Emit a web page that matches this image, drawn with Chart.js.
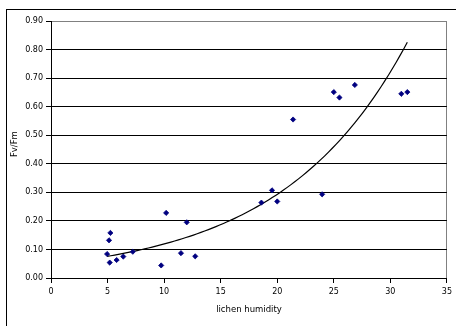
<!DOCTYPE html>
<html>
<head>
<meta charset="utf-8">
<script src="https://cdn.jsdelivr.net/npm/chart.js@4"></script>
<style>
  html, body { margin: 0; padding: 0; background: #fff; overflow: hidden; }
  #frame { position: absolute; left: 6px; top: 9px; width: 520px; height: 400px; border: 1px solid #000; }
  #wrap { position: absolute; left: 0; top: 0; width: 456px; height: 326px; }
</style>
</head>
<body>
<div id="frame"></div>
<div id="wrap"><canvas id="fvfmChart" width="456" height="326"></canvas></div>
<script>
// lichen humidity (x) and Fv/Fm (y)
let humidity = [4.96, 5.25, 5.13, 5.19, 5.8, 6.39, 7.23, 9.74, 10.18, 11.49, 12.0, 12.75,
                18.6, 19.54, 20.0, 21.4, 23.97, 25.0, 25.5, 26.86, 30.97, 31.5];
let fvfm = [0.084, 0.158, 0.132, 0.054, 0.063, 0.075, 0.092, 0.044, 0.228, 0.087, 0.195, 0.076,
            0.264, 0.307, 0.268, 0.555, 0.293, 0.651, 0.632, 0.676, 0.645, 0.651];

let xTicks = [0, 5, 10, 15, 20, 25, 30, 35];
let yTicks = [0, 0.1, 0.2, 0.3, 0.4, 0.5, 0.6, 0.7, 0.8, 0.9];

let points = humidity.map((h, i) => ({ x: h, y: fvfm[i] }));

// exponential trendline (least squares on ln y), like the spreadsheet does
let n = humidity.length;
let mx = humidity.reduce((a, b) => a + b, 0) / n;
let ly = fvfm.map(v => Math.log(v));
let my = ly.reduce((a, b) => a + b, 0) / n;
let sxy = 0, sxx = 0;
for (let i = 0; i < n; i++) {
  sxy += (humidity[i] - mx) * (ly[i] - my);
  sxx += (humidity[i] - mx) * (humidity[i] - mx);
}
let b = sxy / sxx;
let a = Math.exp(my - b * mx);
let xMin = Math.min(...humidity), xMax = Math.max(...humidity);
let trend = [];
for (let k = 0; k <= 80; k++) {
  let x = xMin + (xMax - xMin) * k / 80;
  trend.push({ x: x, y: a * Math.exp(b * x) });
}

let font = { family: 'DejaVu Sans', size: 8 };

let ctx = document.getElementById('fvfmChart').getContext('2d');
let fvfmChart = new Chart(ctx, {
  type: 'scatter',
  data: {
    datasets: [
      {
        label: 'Fv/Fm',
        data: points,
        pointStyle: 'rectRot',
        pointRadius: 2.6,
        pointBackgroundColor: '#000080',
        pointBorderColor: '#000080',
        pointBorderWidth: 0.8,
        order: 1
      },
      {
        label: 'trend',
        data: trend,
        showLine: true,
        pointRadius: 0,
        borderColor: '#000',
        borderWidth: 1.2,
        fill: false,
        order: 2
      }
    ]
  },
  options: {
    responsive: false,
    animation: false,
    events: [],
    layout: { padding: { left: 0, top: 21, right: 5, bottom: 0 } },
    plugins: { legend: { display: false }, tooltip: { enabled: false } },
    scales: {
      x: {
        type: 'linear',
        min: 0, max: 35,
        afterFit: s => { s.height = 48; },
        afterBuildTicks: s => { s.ticks = xTicks.map(v => ({ value: v })); },
        ticks: { font: font, color: '#000', padding: 4, maxRotation: 0 },
        grid: {
          drawOnChartArea: true,
          color: c => (c.tick && c.tick.value === 35 ? '#808080' : 'rgba(0,0,0,0)'),
          tickColor: '#000',
          tickLength: 5
        },
        border: { color: '#000', width: 1 },
        title: { display: true, text: 'lichen humidity', font: { family: 'DejaVu Sans', size: 8.5 }, color: '#000', padding: { top: 0, bottom: 11 } }
      },
      y: {
        min: 0, max: 0.9,
        afterFit: s => { s.width = 51; },
        afterBuildTicks: s => { s.ticks = yTicks.map(v => ({ value: v })); },
        ticks: { font: font, color: '#000', padding: 3, callback: v => v.toFixed(2) },
        grid: {
          color: c => (c.tick && Math.abs(c.tick.value - 0.9) < 1e-9 ? '#808080' : '#000'),
          tickColor: '#000',
          tickLength: 5
        },
        border: { color: '#000', width: 1 },
        title: { display: true, text: '\u00a0\u00a0\u00a0\u00a0Fv/Fm', font: { family: 'DejaVu Sans', size: 8.5 }, color: '#000', padding: { top: 10, bottom: 0 } }
      }
    }
  }
});
</script>
</body>
</html>
